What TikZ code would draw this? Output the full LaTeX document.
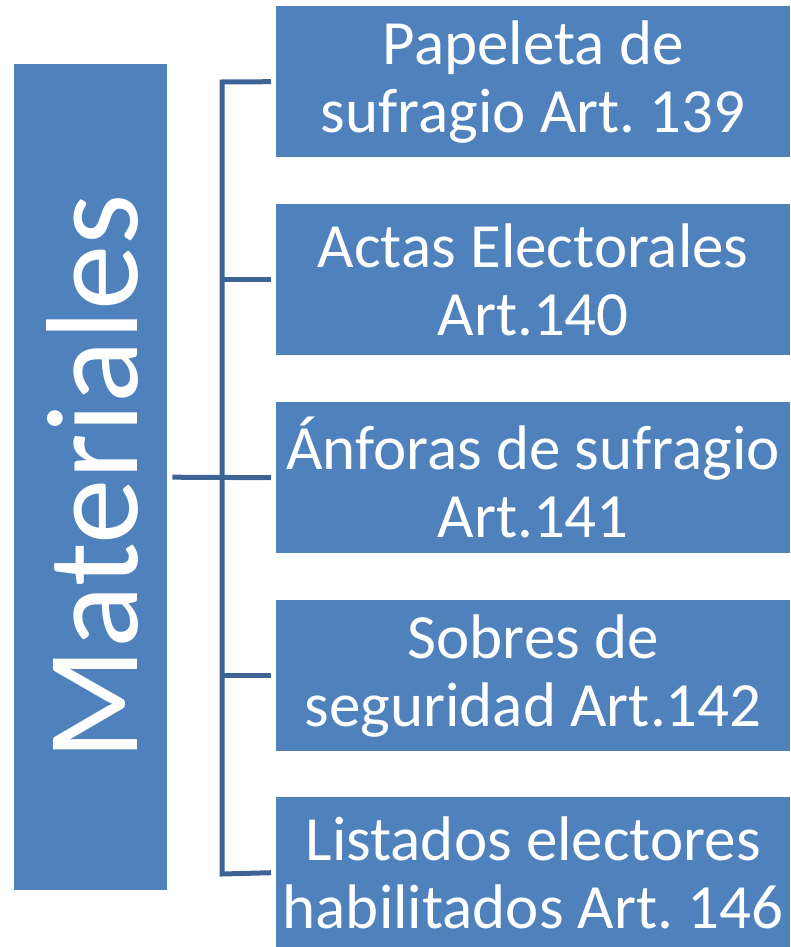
\documentclass[tikz,border=0pt]{standalone}
\usepackage{fontspec}
\setmainfont{Carlito}
\frenchspacing
\definecolor{boxblue}{RGB}{79,129,189}
\definecolor{lineblue}{RGB}{61,100,148}
\begin{document}
\begin{tikzpicture}[x=1pt,y=-1pt,
  itembox/.style={fill=boxblue,draw=none,minimum width=514pt,minimum height=151pt,anchor=north west,inner sep=0pt,text=white,align=center,font=\fontsize{63}{68}\selectfont},
  conn/.style={draw=lineblue,line width=5pt}]
\useasboundingbox (0,0) rectangle (790,947);
\node[fill=boxblue,minimum width=153pt,minimum height=826pt,anchor=north west,inner sep=0pt] (main) at (14,64) {};
\node[rotate=90,text=white,font=\fontsize{131}{136}\selectfont] (mainlabel) at ([xshift=2pt]main.center) {Materiales};
\node[itembox] (b1) at (276,6) {Papeleta de\\sufragio Art. 139};
\node[itembox] (b2) at (276,204) {Actas Electorales\\Art.140};
\node[itembox] (b3) at (276,402) {Ánforas de sufragio\\Art.141};
\node[itembox] (b4) at (276,600) {Sobres de\\seguridad Art.142};
\node[itembox] (b5) at (276,797) {Listados electores\\habilitados Art. 146};
\coordinate (top) at (222,82);
\coordinate (bot) at (222,874);
\coordinate (mid) at (222,478);
\draw[conn] (b1.west)++(-5,0) -- (top) -- (bot) -- ([xshift=-5pt]b5.west);
\draw[conn] ([xshift=5pt]main.east) -- ([xshift=-5pt]b3.west);
\draw[conn] (mid|-b2.west) -- ([xshift=-5pt]b2.west);
\draw[conn] (mid|-b4.west) -- ([xshift=-5pt]b4.west);
\end{tikzpicture}
\end{document}
